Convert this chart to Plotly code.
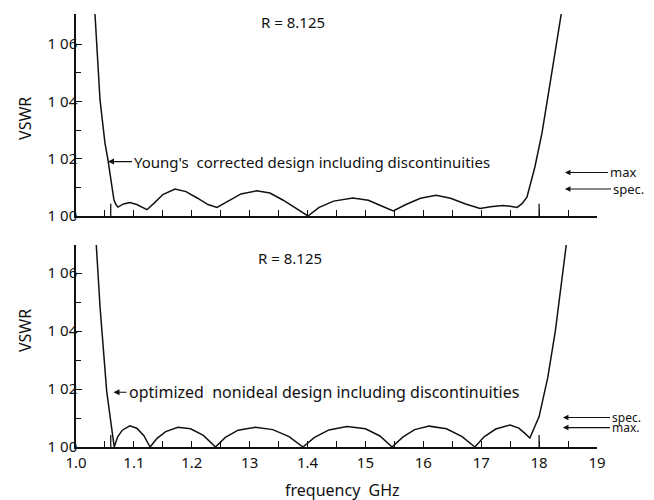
import plotly.graph_objects as go
from plotly.subplots import make_subplots

# ---- data ----
young_freq = [1.0325, 1.036, 1.0415, 1.050, 1.0553, 1.0622, 1.0656, 1.0690, 1.0725,
              1.082, 1.093, 1.105, 1.1226, 1.135, 1.150, 1.171, 1.190, 1.210, 1.228,
              1.2435, 1.260, 1.285, 1.312, 1.335, 1.358, 1.380, 1.4007, 1.420, 1.445,
              1.478, 1.505, 1.528, 1.548, 1.570, 1.595, 1.622, 1.647, 1.673, 1.698,
              1.716, 1.737, 1.750, 1.762, 1.770, 1.779, 1.7927, 1.805, 1.819, 1.8307,
              1.839, 1.841]
young_vswr = [1.0715, 1.0600, 1.0405, 1.0255, 1.0195, 1.0101, 1.0056, 1.0040, 1.0031,
              1.0042, 1.0047, 1.0040, 1.0022, 1.0045, 1.0075, 1.0094, 1.0085, 1.0062, 1.0040,
              1.0030, 1.0048, 1.0077, 1.0088, 1.0080, 1.0055, 1.0028, 1.0000, 1.0030, 1.0052,
              1.0063, 1.0055, 1.0035, 1.0018, 1.0040, 1.0062, 1.0072, 1.0062, 1.0042, 1.0026,
              1.0032, 1.0037, 1.0034, 1.0030, 1.0042, 1.0066, 1.0171, 1.0290, 1.0464, 1.0600,
              1.0705, 1.0740]

opt_freq = [1.0345, 1.0415, 1.053, 1.066,
            1.072, 1.080, 1.093, 1.105, 1.117, 1.128,
            1.140, 1.155, 1.176, 1.198, 1.220, 1.241,
            1.258, 1.280, 1.310, 1.340, 1.368, 1.392,
            1.412, 1.437, 1.468, 1.500, 1.525, 1.546,
            1.565, 1.585, 1.610, 1.640, 1.667, 1.689,
            1.705, 1.725, 1.750, 1.765, 1.775, 1.784,
            1.800, 1.815, 1.828, 1.840, 1.848]
opt_vswr = [1.0715, 1.0484, 1.0193, 1.0000,
            1.0035, 1.0058, 1.0073, 1.0065, 1.0040, 1.0000,
            1.0030, 1.0053, 1.0068, 1.0063, 1.0040, 1.0000,
            1.0033, 1.0058, 1.0068, 1.0060, 1.0036, 1.0000,
            1.0033, 1.0059, 1.0071, 1.0063, 1.0038, 1.0000,
            1.0035, 1.0060, 1.0072, 1.0063, 1.0036, 1.0000,
            1.0035, 1.0062, 1.0076, 1.0065, 1.0048, 1.0031,
            1.0105, 1.0240, 1.0400, 1.0580, 1.0715]

x_tickvals = [1.0, 1.1, 1.2, 1.3, 1.4, 1.5, 1.6, 1.7, 1.8, 1.9]
x_ticktext = ["1.0", "1.1", "1.2", "13", "1.4", "15", "16", "17", "18", "19"]
x_minor = [1.05, 1.15, 1.25, 1.35, 1.45, 1.55, 1.65, 1.75, 1.85]
y_tickvals = [1.00, 1.02, 1.04, 1.06, 1.0704]
y_ticktext = ["1 00", "1 02", "1 04", "1 06", ""]
y_minor = [1.01, 1.03, 1.05]
band_edges = [1.06, 1.8]

FONT = "Noto Sans"
BLACK = "#111111"

fig = make_subplots(rows=2, cols=1, vertical_spacing=0.067)

fig.add_trace(go.Scatter(x=young_freq, y=young_vswr, mode="lines",
                         line=dict(color=BLACK, width=1.5), showlegend=False), row=1, col=1)
fig.add_trace(go.Scatter(x=opt_freq, y=opt_vswr, mode="lines",
                         line=dict(color=BLACK, width=1.5), showlegend=False), row=2, col=1)

xcommon = dict(range=[1.0, 1.9], tickvals=x_tickvals, ticktext=x_ticktext,
               ticks="inside", ticklen=6, tickwidth=1.3, tickcolor=BLACK,
               minor=dict(tickvals=x_minor, ticks="inside", ticklen=6, tickwidth=1.3, tickcolor=BLACK),
               showline=True, linecolor=BLACK, linewidth=1.5, showgrid=False, zeroline=False,
               automargin=False, tickfont=dict(family=FONT, size=15, color=BLACK))
ycommon = dict(tickvals=y_tickvals, ticktext=y_ticktext,
               ticks="inside", ticklen=6, tickwidth=1.3, tickcolor=BLACK,
               minor=dict(tickvals=y_minor, ticks="inside", ticklen=5, tickwidth=1.3, tickcolor=BLACK),
               showline=True, linecolor=BLACK, linewidth=1.5, showgrid=False, zeroline=False,
               automargin=False, tickfont=dict(family=FONT, size=15, color=BLACK))

fig.update_xaxes(**xcommon)
fig.update_xaxes(showticklabels=False, row=1, col=1)
fig.update_yaxes(**ycommon)
fig.update_yaxes(range=[1.0, 1.0705], domain=[0.5335, 1.0], row=1, col=1)
fig.update_yaxes(range=[1.0, 1.0697], domain=[0.0, 0.4665], row=2, col=1)
try:
    fig.update_yaxes(ticklabelstandoff=-6)
    fig.update_xaxes(ticklabelstandoff=1)
except Exception:
    pass

# taller band-edge ticks
for xr, yr in (("x", "y domain"), ("x2", "y2 domain")):
    for be in band_edges:
        fig.add_shape(type="line", xref=xr, yref=yr, x0=be, x1=be, y0=0, y1=0.06,
                      line=dict(color=BLACK, width=1.3))

side_font = dict(family=FONT, size=12, color=BLACK)
arrow = dict(showarrow=True, ay=0, xanchor="left", yanchor="middle",
             arrowhead=2, arrowsize=1, arrowcolor=BLACK, standoff=0)
annotations = [
    dict(x=1.3748, y=1.0677, xref="x", yref="y", text="R = 8.125", showarrow=False,
         xanchor="center", yanchor="middle", font=dict(family=FONT, size=15, color=BLACK)),
    dict(x=1.3696, y=1.0652, xref="x2", yref="y2", text="R = 8.125", showarrow=False,
         xanchor="center", yanchor="middle", font=dict(family=FONT, size=15, color=BLACK)),
    dict(x=1.0553, y=1.0190, xref="x", yref="y", text="Young's  corrected design including discontinuities",
         ax=24, font=dict(family=FONT, size=15, color=BLACK), arrowwidth=1.2, **arrow),
    dict(x=1.0648, y=1.0189, xref="x2", yref="y2", text="optimized  nonideal design including discontinuities",
         ax=13, font=dict(family=FONT, size=16, color=BLACK), arrowwidth=1.2, **arrow),
    dict(x=1.8446, y=1.0152, xref="x", yref="y", text="max", ax=43,
         font=dict(family=FONT, size=13, color=BLACK), arrowwidth=1.1, **arrow),
    dict(x=1.8446, y=1.0094, xref="x", yref="y", text="spec.", ax=46,
         font=dict(family=FONT, size=13, color=BLACK), arrowwidth=1.1, **arrow),
    dict(x=1.8412, y=1.0102, xref="x2", yref="y2", text="spec.", ax=47,
         font=side_font, arrowwidth=1.1, **arrow),
    dict(x=1.8412, y=1.0067, xref="x2", yref="y2", text="max.", ax=47,
         font=side_font, arrowwidth=1.1, **arrow),
    dict(x=-0.0979, y=0.76, xref="paper", yref="paper", text="VSWR", textangle=-90, showarrow=False,
         xanchor="center", yanchor="middle", font=dict(family=FONT, size=16, color=BLACK)),
    dict(x=-0.0979, y=0.27, xref="paper", yref="paper", text="VSWR", textangle=-90, showarrow=False,
         xanchor="center", yanchor="middle", font=dict(family=FONT, size=16, color=BLACK)),
    dict(x=0.5106, y=-0.0993, xref="paper", yref="paper", text="frequency  GHz", showarrow=False,
         xanchor="center", yanchor="middle", font=dict(family=FONT, size=16, color=BLACK)),
]
fig.update_layout(annotations=annotations)

# page body adds an 8px offset, so the figure is 8px smaller and margins shifted
fig.update_layout(width=646, height=492, margin=dict(l=68, r=57, t=6, b=53),
                  plot_bgcolor="white", paper_bgcolor="white", showlegend=False)

fig.write_html("out.html")
